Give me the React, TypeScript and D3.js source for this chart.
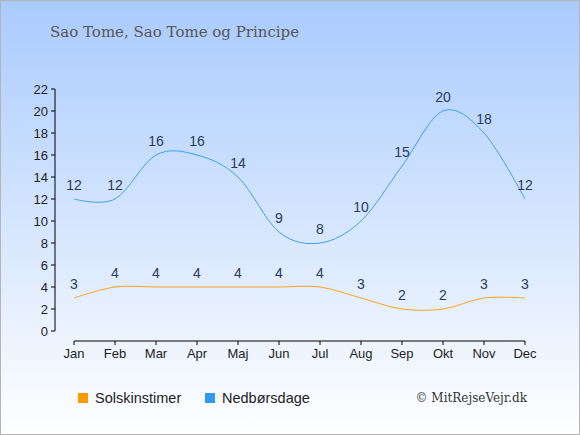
import React from 'react';
import * as d3 from 'd3';

const months = ['Jan', 'Feb', 'Mar', 'Apr', 'Maj', 'Jun', 'Jul', 'Aug', 'Sep', 'Okt', 'Nov', 'Dec'];
const sunHours = [3, 4, 4, 4, 4, 4, 4, 3, 2, 2, 3, 3];
const rainDays = [12, 12, 16, 16, 14, 9, 8, 10, 15, 20, 18, 12];
const yTicks = [0, 2, 4, 6, 8, 10, 12, 14, 16, 18, 20, 22];

const W = 580;
const H = 435;

const App = () => {
  const x = d3.scalePoint<string>().domain(months).range([74, 525]);
  const y = d3.scaleLinear().domain([0, 22]).range([331, 89]);

  const line = d3
    .line<number>()
    .x((_, i) => x(months[i]) as number)
    .y((d) => y(d))
    .curve(d3.curveCardinal.tension(0));

  const sans = 'Liberation Sans, Arial, sans-serif';
  const serif = 'DejaVu Serif, Georgia, serif';

  return (
    <svg
      width={W}
      height={H}
      style={{ position: 'absolute', left: 0, top: 0 }}
    >
      <defs>
        <linearGradient id="bg" x1="0" y1="0" x2="0" y2="1">
          <stop offset="0%" stopColor="#a9cbfe" />
          <stop offset="100%" stopColor="#ffffff" />
        </linearGradient>
      </defs>
      <rect x={0.5} y={0.5} width={W - 1} height={H - 1} fill="url(#bg)" stroke="#b5b5b5" />

      <text x={50} y={37} fontFamily={serif} fontSize={15} fill="#555">
        Sao Tome, Sao Tome og Principe
      </text>

      {/* y axis */}
      <line x1={55} x2={55} y1={y(22)} y2={y(0)} stroke="#000" />
      {yTicks.map((t) => (
        <g key={t}>
          <line x1={51} x2={55} y1={y(t)} y2={y(t)} stroke="#000" />
          <text x={48} y={y(t)} dy="0.35em" textAnchor="end" fontFamily={sans} fontSize={13} fill="#222">
            {t}
          </text>
        </g>
      ))}

      {/* x axis */}
      <line x1={x('Jan')} x2={x('Dec')} y1={341} y2={341} stroke="#000" />
      {months.map((m) => (
        <g key={m}>
          <line x1={x(m)} x2={x(m)} y1={341} y2={345} stroke="#000" />
          <text x={x(m)} y={358} textAnchor="middle" fontFamily={sans} fontSize={13} fill="#222">
            {m}
          </text>
        </g>
      ))}

      <path d={line(sunHours) ?? ''} fill="none" stroke="#ffa31a" strokeWidth={1} />
      <path d={line(rainDays) ?? ''} fill="none" stroke="#3d9ff0" strokeWidth={1} />

      {sunHours.map((v, i) => (
        <text key={'s' + i} x={x(months[i])} y={y(v) - 9} textAnchor="middle" fontFamily={sans} fontSize={14} fill="#2a3b5a">
          {v}
        </text>
      ))}
      {rainDays.map((v, i) => (
        <text key={'r' + i} x={x(months[i])} y={y(v) - 9} textAnchor="middle" fontFamily={sans} fontSize={14} fill="#2a3b5a">
          {v}
        </text>
      ))}

      {/* legend */}
      <rect x={78} y={393} width={10} height={10} fill="#ff9900" />
      <text x={95} y={403} fontFamily={sans} fontSize={14.5} fill="#222">Solskinstimer</text>
      <rect x={205} y={393} width={10} height={10} fill="#3399ee" />
      <text x={222} y={403} fontFamily={sans} fontSize={14.5} fill="#222">Nedbørsdage</text>
      <text x={527} y={402} textAnchor="end" fontFamily={serif} fontSize={12} fill="#333">
        © MitRejseVejr.dk
      </text>
    </svg>
  );
};

export default App;
